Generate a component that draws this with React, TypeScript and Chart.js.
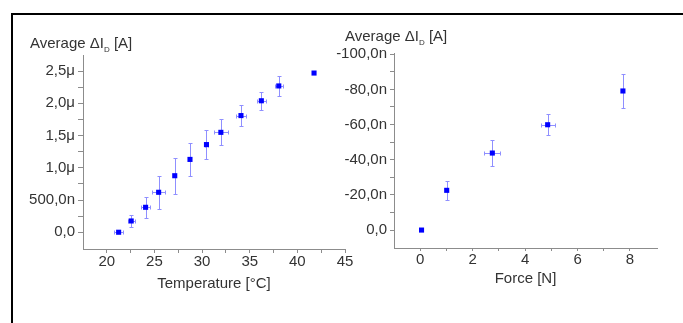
import React, { useEffect, useRef } from "react";
import { Chart, registerables } from "chart.js";
Chart.register(...registerables);

// ---------- Data: Temperature chart ----------
const tempC = [21.24, 22.56, 24.07, 25.44, 27.13, 28.73, 30.46, 31.97, 34.08, 36.22, 38.05, 41.75];
const tempCurrent = [0.0, 0.175, 0.387, 0.62, 0.877, 1.13, 1.36, 1.55, 1.81, 2.04, 2.27, 2.47]; // μA
const tempCurrentErr = [0, 0.1, 0.16, 0.26, 0.28, 0.26, 0.22, 0.2, 0.16, 0.14, 0.155, 0];
const tempErr = [0.45, 0.35, 0.5, 0.65, 0, 0, 0.15, 0.73, 0.55, 0.48, 0.41, 0];
const tempXTicks = [20, 25, 30, 35, 40, 45];
const tempXMinor = [22.5, 27.5, 32.5, 37.5, 42.5];
const tempYTicks = [0, 0.5, 1, 1.5, 2, 2.5];
const tempYLabels = ["0,0", "500,0n", "1,0μ", "1,5μ", "2,0μ", "2,5μ"];
const tempYMinor = [0.25, 0.75, 1.25, 1.75, 2.25];

// ---------- Data: Force chart ----------
const force = [0.05, 1.01, 2.75, 4.86, 7.73];
const forceCurrent = [0, -22.6, -43.8, -59.9, -79.1]; // nA
const forceCurrentErr = [0, 5.4, 7.3, 6.1, 9.4];
const forceErr = [0, 0, 0.3, 0.27, 0];
const forceXTicks = [0, 2, 4, 6, 8];
const forceXMinor = [1, 3, 5, 7];
const forceYTicks = [0, -20, -40, -60, -80, -100];
const forceYLabels = ["0,0", "-20,0n", "-40,0n", "-60,0n", "-80,0n", "-100,0n"];
const forceYMinor = [-10, -30, -50, -70, -90];

const FONT = "'Liberation Sans', Arial, Helvetica, sans-serif";
const TEXT = "#333333";
const AXIS = "#8c8c8c";
const POINT = "#0000ff";
const ERR = "#8f8fff";

function errorBarPlugin(xErr: number[], yErr: number[]) {
  return {
    id: "errorBars",
    beforeDatasetsDraw(chart: any) {
      const ctx = chart.ctx;
      const xs = chart.scales.x;
      const ys = chart.scales.y;
      const pts = chart.data.datasets[0].data;
      ctx.save();
      ctx.strokeStyle = ERR;
      ctx.lineWidth = 1;
      pts.forEach((p: any, i: number) => {
        const px = Math.round(xs.getPixelForValue(p.x)) + 0.5;
        const py = Math.round(ys.getPixelForValue(p.y)) + 0.5;
        if (yErr[i]) {
          const y1 = Math.round(ys.getPixelForValue(p.y - yErr[i])) + 0.5;
          const y2 = Math.round(ys.getPixelForValue(p.y + yErr[i])) + 0.5;
          ctx.beginPath();
          ctx.moveTo(px, y1);
          ctx.lineTo(px, y2);
          ctx.moveTo(px - 2, y1);
          ctx.lineTo(px + 2, y1);
          ctx.moveTo(px - 2, y2);
          ctx.lineTo(px + 2, y2);
          ctx.stroke();
        }
        if (xErr[i]) {
          const x1 = Math.round(xs.getPixelForValue(p.x - xErr[i])) + 0.5;
          const x2 = Math.round(xs.getPixelForValue(p.x + xErr[i])) + 0.5;
          ctx.beginPath();
          ctx.moveTo(x1, py);
          ctx.lineTo(x2, py);
          ctx.moveTo(x1, py - 2);
          ctx.lineTo(x1, py + 2);
          ctx.moveTo(x2, py - 2);
          ctx.lineTo(x2, py + 2);
          ctx.stroke();
        }
      });
      ctx.restore();
    },
  };
}

function makeTicks(major: number[], minor: number[]) {
  return (scale: any) => {
    scale.ticks = [...major, ...minor].sort((a, b) => a - b).map((v) => ({ value: v }));
  };
}

function labeler(values: number[], labels: (string)[]) {
  return (v: any) => {
    const i = values.findIndex((m) => Math.abs(m - Number(v)) < 1e-9);
    return i >= 0 ? labels[i] : "";
  };
}

function axisCommon(tickLength: number, padding: number) {
  return {
    grid: { display: true, drawOnChartArea: false, drawTicks: true, tickLength, color: AXIS, lineWidth: 1 },
    border: { display: true, color: AXIS, width: 1 },
    ticks: { font: { family: FONT, size: 15 }, color: TEXT, padding, autoSkip: false, maxRotation: 0, minRotation: 0 },
  };
}

function TempChart() {
  const ref = useRef<HTMLCanvasElement>(null);
  useEffect(() => {
    const xc = axisCommon(4, 0);
    const yc = axisCommon(5, 3);
    const chart = new Chart(ref.current!, {
      type: "scatter",
      data: {
        datasets: [
          {
            data: tempC.map((x, i) => ({ x, y: tempCurrent[i] })),
            backgroundColor: POINT,
            borderColor: POINT,
            borderWidth: 0,
            pointStyle: "rect",
            pointRadius: 3.6,
          },
        ],
      },
      options: {
        animation: false,
        responsive: false,
        devicePixelRatio: 1,
        layout: { padding: { left: 0, top: 55, right: 338, bottom: 0 } },
        plugins: { legend: { display: false }, tooltip: { enabled: false } },
        scales: {
          x: {
            type: "linear",
            position: "bottom",
            min: 17.5,
            max: 45,
            ...xc,
            ticks: { ...xc.ticks, callback: labeler(tempXTicks, tempXTicks.map(String)) },
            afterBuildTicks: makeTicks(tempXTicks, tempXMinor),
            afterFit: (s: any) => { s.height = 74; },
            title: { display: true, text: "Temperature [°C]", font: { family: FONT, size: 15 }, color: TEXT, padding: { top: 0, bottom: 30 } },
          },
          y: {
            type: "linear",
            position: "left",
            min: -0.26,
            max: 2.75,
            ...yc,
            ticks: { ...yc.ticks, callback: labeler(tempYTicks, tempYLabels) },
            afterBuildTicks: makeTicks(tempYTicks, tempYMinor),
            afterFit: (s: any) => { s.width = 83; },
          },
        },
      },
      plugins: [errorBarPlugin(tempErr, tempCurrentErr)],
    } as any);
    return () => chart.destroy();
  }, []);
  return <canvas ref={ref} width={683} height={323} style={{ position: "absolute", left: 0, top: 0 }} />;
}

function ForceChart() {
  const ref = useRef<HTMLCanvasElement>(null);
  useEffect(() => {
    const xc = axisCommon(3, 0);
    const yc = axisCommon(4, 3);
    const chart = new Chart(ref.current!, {
      type: "scatter",
      data: {
        datasets: [
          {
            data: force.map((x, i) => ({ x, y: forceCurrent[i] })),
            backgroundColor: POINT,
            borderColor: POINT,
            borderWidth: 0,
            pointStyle: "rect",
            pointRadius: 3.6,
          },
        ],
      },
      options: {
        animation: false,
        responsive: false,
        devicePixelRatio: 1,
        layout: { padding: { left: 324, top: 53, right: 26, bottom: 0 } },
        plugins: { legend: { display: false }, tooltip: { enabled: false } },
        scales: {
          x: {
            type: "linear",
            position: "bottom",
            min: -1,
            max: 9.03,
            ...xc,
            ticks: { ...xc.ticks, callback: labeler(forceXTicks, forceXTicks.map(String)) },
            afterBuildTicks: makeTicks(forceXTicks, forceXMinor),
            afterFit: (s: any) => { s.height = 75; },
            title: { display: true, text: "Force [N]", font: { family: FONT, size: 15 }, color: TEXT, padding: { top: 0, bottom: 35 } },
          },
          y: {
            type: "linear",
            position: "left",
            reverse: true,
            min: -100.7,
            max: 10.2,
            ...yc,
            ticks: { ...yc.ticks, callback: labeler(forceYTicks, forceYLabels) },
            afterBuildTicks: makeTicks(forceYTicks, forceYMinor),
            afterFit: (s: any) => { s.width = 70; },
          },
        },
      },
      plugins: [errorBarPlugin(forceErr, forceCurrentErr)],
    } as any);
    return () => chart.destroy();
  }, []);
  return <canvas ref={ref} width={683} height={323} style={{ position: "absolute", left: 0, top: 0 }} />;
}

function YTitle({ left, top }: { left: number; top: number }) {
  return (
    <div
      style={{
        position: "absolute",
        left,
        top,
        fontFamily: FONT,
        fontSize: 15,
        lineHeight: "15px",
        color: TEXT,
        whiteSpace: "nowrap",
      }}
    >
      Average ΔI
      <span style={{ fontSize: 8, position: "relative", top: 4 }}>D</span> [A]
    </div>
  );
}

export default function App() {
  return (
    <div
      style={{
        position: "absolute",
        left: 0,
        top: 0,
        width: 683,
        height: 323,
        overflow: "hidden",
        background: "#ffffff",
      }}
    >
      <div
        style={{
          position: "absolute",
          left: 11,
          top: 13,
          width: 800,
          height: 500,
          borderLeft: "2px solid #000",
          borderTop: "2px solid #000",
        }}
      />
      <TempChart />
      <ForceChart />
      <YTitle left={30} top={35} />
      <YTitle left={345} top={28} />
    </div>
  );
}
